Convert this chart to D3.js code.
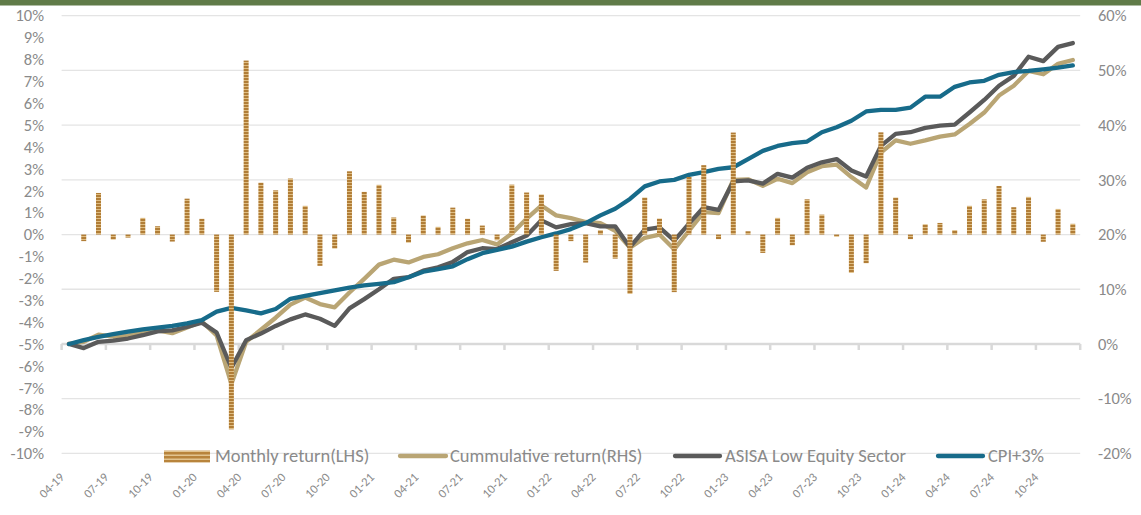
<!DOCTYPE html>
<html>
<head>
<meta charset="utf-8">
<script src="https://cdn.jsdelivr.net/npm/d3@7"></script>
<style>
  body { margin: 0; background: #fff; }
  text { font-family: Calibri, Carlito, Lato, sans-serif; fill: #8a8a8a; }
</style>
</head>
<body>
<div class="chart"></div>
<script>
var svgWidth = 1141;
var svgHeight = 515;

// month labels (mm-yy), Apr 2019 .. Dec 2024
var months = ["04-19","05-19","06-19","07-19","08-19","09-19","10-19","11-19","12-19",
  "01-20","02-20","03-20","04-20","05-20","06-20","07-20","08-20","09-20","10-20","11-20","12-20",
  "01-21","02-21","03-21","04-21","05-21","06-21","07-21","08-21","09-21","10-21","11-21","12-21",
  "01-22","02-22","03-22","04-22","05-22","06-22","07-22","08-22","09-22","10-22","11-22","12-22",
  "01-23","02-23","03-23","04-23","05-23","06-23","07-23","08-23","09-23","10-23","11-23","12-23",
  "01-24","02-24","03-24","04-24","05-24","06-24","07-24","08-24","09-24","10-24","11-24","12-24"];

// monthly return in % (left axis)
var monthlyReturn = [null, -0.30, 1.90, -0.23, -0.14, 0.76, 0.38, -0.32, 1.64,
  0.72, -2.62, -8.90, 7.95, 2.37, 2.02, 2.56, 1.31, -1.43, -0.64, 2.89, 1.95,
  2.27, 0.78, -0.37, 0.87, 0.35, 1.23, 0.72, 0.41, -0.26, 2.28, 1.92, 1.83,
  -1.66, -0.30, -1.28, 0.20, -1.10, -2.71, 1.69, 0.73, -2.63, 2.63, 3.17, -0.21,
  4.66, 0.15, -0.84, 0.76, -0.49, 1.61, 0.91, -0.10, -1.75, -1.31, 4.67, 1.69,
  -0.21, 0.47, 0.53, 0.20, 1.31, 1.61, 2.22, 1.25, 1.72, -0.33, 1.17, 0.49];

// cumulative return in % (right axis)
var cumulativeReturn = [0, 0.4, 1.7, 1.35, 1.55, 2.16, 2.47, 1.98, 3.0,
  4.1, 1.55, -7.3, 0.4, 2.6, 4.8, 7.2, 8.5, 7.3, 6.7, 9.4, 11.9,
  14.5, 15.4, 14.9, 15.9, 16.4, 17.5, 18.4, 19.0, 18.2, 20.2, 22.9, 25.3,
  23.5, 23.0, 22.3, 22.1, 20.7, 17.6, 19.4, 20.0, 17.3, 20.7, 24.1, 23.9,
  30.0, 30.1, 28.9, 30.2, 29.4, 31.4, 32.5, 32.8, 30.5, 28.6, 35.0, 37.2,
  36.6, 37.2, 37.9, 38.3, 40.2, 42.3, 45.4, 47.2, 49.9, 49.3, 51.2, 51.9];

var asisaLowEquity = [0, -0.75, 0.4, 0.6, 1.0, 1.6, 2.3, 2.47, 3.1,
  3.9, 2.1, -4.4, 0.7, 1.9, 3.3, 4.5, 5.4, 4.6, 3.3, 6.5, 8.2,
  10.0, 11.9, 12.2, 13.4, 14.0, 15.0, 16.8, 17.5, 17.35, 18.6, 19.8, 22.6,
  21.3, 21.9, 22.1, 21.5, 21.5, 17.7, 20.9, 21.3, 18.9, 22.0, 25.0, 24.5,
  29.7, 29.9, 29.3, 31.1, 30.4, 32.2, 33.2, 33.8, 31.7, 30.6, 36.2, 38.4,
  38.7, 39.5, 39.9, 40.1, 42.3, 44.6, 47.2, 49.0, 52.5, 51.7, 54.3, 55.0];

var cpiPlus3 = [0, 0.7, 1.3, 1.8, 2.25, 2.65, 3.0, 3.3, 3.75,
  4.35, 5.9, 6.6, 6.15, 5.6, 6.4, 8.25, 8.8, 9.3, 9.8, 10.3, 10.7,
  11.0, 11.3, 12.2, 13.2, 13.7, 14.2, 15.5, 16.6, 17.2, 17.8, 18.7, 19.5,
  20.2, 21.0, 22.1, 23.5, 24.7, 26.5, 28.8, 29.7, 30.0, 30.9, 31.4, 32.0,
  32.3, 33.8, 35.3, 36.2, 36.7, 37.0, 38.7, 39.6, 40.8, 42.5, 42.8, 42.8,
  43.2, 45.2, 45.2, 47.0, 47.8, 48.1, 49.2, 49.7, 49.9, 50.2, 50.5, 50.9];

var leftTicks = [-10, -9, -8, -7, -6, -5, -4, -3, -2, -1, 0, 1, 2, 3, 4, 5, 6, 7, 8, 9, 10];
var rightTicks = [-20, -10, 0, 10, 20, 30, 40, 50, 60];
var labelMonths = months.filter(function(d, i) { return i % 3 === 0; });

var legendItems = ["Monthly return(LHS)", "Cummulative return(RHS)", "ASISA Low Equity Sector", "CPI+3%"];

var svg = d3.select(".chart")
  .append("svg")
  .attr("width", svgWidth)
  .attr("height", svgHeight);

// striped fill used by the monthly bars
var defs = svg.append("defs");
var pat = defs.append("pattern")
  .attr("id", "stripes")
  .attr("patternUnits", "userSpaceOnUse")
  .attr("width", 6)
  .attr("height", 3);
pat.append("rect").attr("width", 6).attr("height", 3).attr("fill", "#b17d36");
pat.append("rect").attr("y", 2).attr("width", 6).attr("height", 1).attr("fill", "#dfbd82");

var pat2 = defs.append("pattern")
  .attr("id", "stripesLegend")
  .attr("patternUnits", "userSpaceOnUse")
  .attr("width", 6)
  .attr("height", 4);
pat2.append("rect").attr("width", 6).attr("height", 4).attr("fill", "#b8843c");
pat2.append("rect").attr("y", 2.5).attr("width", 6).attr("height", 1.5).attr("fill", "#e2c48f");

// green band at the top
svg.append("rect")
  .attr("width", svgWidth)
  .attr("height", 5.5)
  .attr("fill", "#607b48");

var xScale = d3.scaleBand()
  .domain(months)
  .range([61.6, 1080.2]);

var yLeft = d3.scaleLinear().domain([-10, 10]).range([453.4, 15.7]);
var yRight = d3.scaleLinear().domain([-20, 60]).range([453.4, 15.7]);

var cx = function(d) { return xScale(d) + xScale.bandwidth() / 2; };

// gridlines follow the right axis
svg.append("g")
  .selectAll("line")
  .data(rightTicks)
  .enter().append("line")
    .attr("x1", 61.6)
    .attr("x2", 1080.2)
    .attr("y1", function(d) { return yRight(d); })
    .attr("y2", function(d) { return yRight(d); })
    .attr("stroke", "#e4e4e4")
    .attr("stroke-width", 1.3);

// category axis sits at 0% of the right axis
var catAxis = svg.append("g")
  .attr("transform", "translate(0," + yRight(0) + ")");

catAxis.append("line")
  .attr("x1", 61.6)
  .attr("x2", 1080.2)
  .attr("stroke", "#d9d9d9")
  .attr("stroke-width", 2.5);

catAxis.selectAll(".tick")
  .data(d3.range(0, months.length + 1, 3))
  .enter().append("line")
    .attr("x1", function(i) { return xScale.range()[0] + i * xScale.step(); })
    .attr("x2", function(i) { return xScale.range()[0] + i * xScale.step(); })
    .attr("y1", 0)
    .attr("y2", 6)
    .attr("stroke", "#d9d9d9")
    .attr("stroke-width", 2.5);

// x labels, rotated
svg.append("g")
  .selectAll("text")
  .data(labelMonths)
  .enter().append("text")
    .attr("transform", function(d) { return "translate(" + (cx(d) - 4) + ",478) rotate(-45)"; })
    .attr("text-anchor", "end")
    .style("font-size", "12.5px")
    .text(function(d) { return d; });

// lines
var lineGen = function(values) {
  return d3.line()
    .defined(function(d, i) { return values[i] != null; })
    .x(function(d) { return cx(d); })
    .y(function(d, i) { return yRight(values[i]); })(months);
};

var series = [
  { values: cumulativeReturn, color: "#b9a574" },
  { values: asisaLowEquity, color: "#5a5a5a" },
  { values: cpiPlus3, color: "#176b8a" }
];

svg.append("g")
  .selectAll("path")
  .data(series)
  .enter().append("path")
    .attr("d", function(s) { return lineGen(s.values); })
    .attr("fill", "none")
    .attr("stroke", function(s) { return s.color; })
    .attr("stroke-width", 4.3)
    .attr("stroke-linejoin", "round")
    .attr("stroke-linecap", "round");

// monthly bars
svg.append("g")
  .selectAll("rect")
  .data(months.filter(function(d, i) { return monthlyReturn[i] != null; }))
  .enter().append("rect")
    .attr("x", function(d) { return cx(d) - 2.5; })
    .attr("width", 5)
    .attr("y", function(d) { return yLeft(Math.max(0, monthlyReturn[months.indexOf(d)])); })
    .attr("height", function(d) { return Math.abs(yLeft(monthlyReturn[months.indexOf(d)]) - yLeft(0)); })
    .attr("fill", "url(#stripes)");

// left axis
var leftAxis = d3.axisLeft(yLeft)
  .tickValues(leftTicks)
  .tickFormat(function(d) { return d + "%"; })
  .tickSize(0)
  .tickPadding(0);

var gl = svg.append("g")
  .attr("transform", "translate(44,0)")
  .call(leftAxis);
gl.select(".domain").remove();
gl.selectAll("text").style("font-size", "16.5px").attr("fill", null).attr("font-family", null);

// right axis
var rightAxis = d3.axisRight(yRight)
  .tickValues(rightTicks)
  .tickFormat(function(d) { return d + "%"; })
  .tickSize(0)
  .tickPadding(0);

var gr = svg.append("g")
  .attr("transform", "translate(1098,0)")
  .call(rightAxis);
gr.select(".domain").remove();
gr.selectAll("text").style("font-size", "16.5px").attr("fill", null).attr("font-family", null);

// legend
var legend = svg.append("g");
var lgY = 456;

legend.append("rect")
  .attr("x", 164).attr("y", 450.5)
  .attr("width", 46).attr("height", 12)
  .attr("fill", "url(#stripesLegend)");

var swatches = [
  { x1: 400, x2: 446, color: "#b9a574" },
  { x1: 675, x2: 720, color: "#5a5a5a" },
  { x1: 938, x2: 983, color: "#176b8a" }
];
legend.selectAll(".sw")
  .data(swatches)
  .enter().append("line")
    .attr("x1", function(d) { return d.x1; })
    .attr("x2", function(d) { return d.x2; })
    .attr("y1", lgY).attr("y2", lgY)
    .attr("stroke", function(d) { return d.color; })
    .attr("stroke-width", 4.3)
    .attr("stroke-linecap", "round");

var textX = [215, 450, 725, 988];
legend.selectAll(".lt")
  .data(legendItems)
  .enter().append("text")
    .attr("x", function(d, i) { return textX[i]; })
    .attr("y", 462)
    .style("font-size", "18.5px")
    .text(function(d) { return d; });
</script>
</body>
</html>
